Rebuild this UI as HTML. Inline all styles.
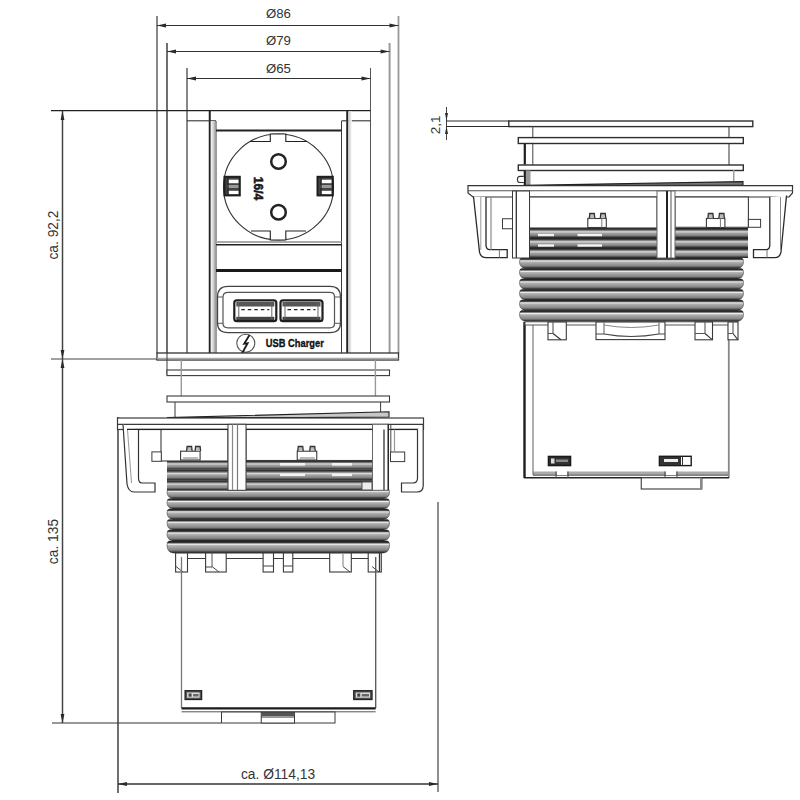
<!DOCTYPE html>
<html><head><meta charset="utf-8"><style>
html,body{margin:0;padding:0;background:#fff;}
svg{display:block;}
text{font-family:"Liberation Sans",sans-serif;}
</style></head><body>
<svg width="800" height="800" viewBox="0 0 800 800">
<defs>
<linearGradient id="thr" x1="0" y1="0" x2="0" y2="1">
 <stop offset="0" stop-color="#1a1a1a"/>
 <stop offset="0.12" stop-color="#303030"/>
 <stop offset="0.27" stop-color="#f0f0f0"/>
 <stop offset="0.38" stop-color="#b4b4b4"/>
 <stop offset="0.58" stop-color="#9a9a9a"/>
 <stop offset="0.76" stop-color="#858585"/>
 <stop offset="0.9" stop-color="#454545"/>
 <stop offset="1" stop-color="#1a1a1a"/>
</linearGradient>
<linearGradient id="gb" x1="0" y1="0" x2="1" y2="0"><stop offset="0" stop-color="#f4f4f4"/><stop offset="0.5" stop-color="#d8d8d8"/><stop offset="1" stop-color="#9a9a9a"/></linearGradient>
<linearGradient id="gb2" x1="0" y1="0" x2="1" y2="0"><stop offset="0" stop-color="#c0c0c0"/><stop offset="1" stop-color="#fafafa"/></linearGradient>
<linearGradient id="thr2" x1="0" y1="0" x2="0" y2="1">
 <stop offset="0" stop-color="#1a1a1a"/>
 <stop offset="0.14" stop-color="#3a3a3a"/>
 <stop offset="0.38" stop-color="#dcdcdc"/>
 <stop offset="0.52" stop-color="#a0a0a0"/>
 <stop offset="0.72" stop-color="#8a8a8a"/>
 <stop offset="0.88" stop-color="#4a4a4a"/>
 <stop offset="1" stop-color="#1a1a1a"/>
</linearGradient>
</defs>
<rect width="800" height="800" fill="#fff"/>
<line x1="157" y1="16" x2="157" y2="353" stroke="#555" stroke-width="1.4"/>
<line x1="398.5" y1="16" x2="398.5" y2="353" stroke="#999" stroke-width="1.8"/>
<line x1="157" y1="25.5" x2="398.5" y2="25.5" stroke="#333" stroke-width="1.2"/>
<polygon points="157,25.5 166,23.6 166,27.4" fill="#2a2a2a"/>
<polygon points="398.5,25.5 389.5,23.6 389.5,27.4" fill="#2a2a2a"/>
<text x="278.5" y="18" font-size="13.2" text-anchor="middle" font-weight="normal" fill="#333">Ø86</text>
<line x1="167" y1="43" x2="167" y2="353" stroke="#222" stroke-width="1.3"/>
<line x1="389.6" y1="43" x2="389.6" y2="353" stroke="#999" stroke-width="2"/>
<line x1="167" y1="51.5" x2="389.6" y2="51.5" stroke="#333" stroke-width="1.2"/>
<polygon points="167,51.5 176,49.6 176,53.4" fill="#2a2a2a"/>
<polygon points="389.6,51.5 380.6,49.6 380.6,53.4" fill="#2a2a2a"/>
<text x="278.5" y="45" font-size="13.2" text-anchor="middle" font-weight="normal" fill="#333">Ø79</text>
<line x1="187" y1="68" x2="187" y2="353" stroke="#555" stroke-width="1.4"/>
<line x1="370.5" y1="68" x2="370.5" y2="353" stroke="#555" stroke-width="1"/>
<line x1="187" y1="78.5" x2="370.5" y2="78.5" stroke="#333" stroke-width="1.2"/>
<polygon points="187,78.5 196,76.6 196,80.4" fill="#2a2a2a"/>
<polygon points="370.5,78.5 361.5,76.6 361.5,80.4" fill="#2a2a2a"/>
<text x="278.5" y="73" font-size="13.2" text-anchor="middle" font-weight="normal" fill="#333">Ø65</text>
<line x1="51" y1="110.6" x2="370.5" y2="110.6" stroke="#222" stroke-width="1.2"/>
<line x1="62.5" y1="111" x2="62.5" y2="723" stroke="#444" stroke-width="1.5"/>
<polygon points="62.5,111 60.6,120 64.4,120" fill="#2a2a2a"/>
<polygon points="62.5,359 60.6,350 64.4,350" fill="#2a2a2a"/>
<polygon points="62.5,359 60.6,368 64.4,368" fill="#2a2a2a"/>
<polygon points="62.5,723 60.6,714 64.4,714" fill="#2a2a2a"/>
<line x1="51" y1="359" x2="157" y2="359" stroke="#444" stroke-width="1.2"/>
<line x1="52" y1="723" x2="221" y2="723" stroke="#333" stroke-width="1"/>
<text x="57.5" y="235" font-size="13.8" text-anchor="middle" font-weight="normal" fill="#333" transform="rotate(-90 57.5 235)">ca. 92,2</text>
<text x="57.5" y="541.5" font-size="13.8" text-anchor="middle" font-weight="normal" fill="#333" transform="rotate(-90 57.5 541.5)">ca. 135</text>
<line x1="118" y1="417" x2="118" y2="793" stroke="#333" stroke-width="1.4"/>
<line x1="438" y1="502" x2="438" y2="792" stroke="#444" stroke-width="1.2"/>
<line x1="118" y1="784" x2="438" y2="784" stroke="#333" stroke-width="1.4"/>
<polygon points="118,784 127,782.1 127,785.9" fill="#2a2a2a"/>
<polygon points="438,784 429,782.1 429,785.9" fill="#2a2a2a"/>
<text x="278" y="778.5" font-size="13.8" text-anchor="middle" font-weight="normal" fill="#333">ca. Ø114,13</text>
<line x1="446.5" y1="107" x2="446.5" y2="140" stroke="#444" stroke-width="1"/>
<polygon points="446.5,121 445.0,113 448.0,113" fill="#2a2a2a"/>
<polygon points="446.5,126 445.0,134 448.0,134" fill="#2a2a2a"/>
<line x1="446" y1="121" x2="509" y2="121" stroke="#2a2a2a" stroke-width="1"/>
<line x1="446" y1="126.5" x2="509" y2="126.5" stroke="#2a2a2a" stroke-width="1"/>
<text x="440.5" y="124.8" font-size="13.5" text-anchor="middle" font-weight="normal" fill="#333" transform="rotate(-90 440.5 124.8)">2,1</text>
<line x1="209.75" y1="111" x2="209.75" y2="353" stroke="#222" stroke-width="2"/>
<line x1="347.25" y1="111" x2="347.25" y2="353" stroke="#222" stroke-width="2"/>
<line x1="187" y1="120.8" x2="216" y2="120.8" stroke="#333" stroke-width="1.1"/>
<line x1="341.5" y1="120.8" x2="370.5" y2="120.8" stroke="#333" stroke-width="1.1"/>
<line x1="216" y1="121" x2="216" y2="353" stroke="#3a3a3a" stroke-width="1"/>
<line x1="341.5" y1="121" x2="341.5" y2="353" stroke="#3a3a3a" stroke-width="1"/>
<rect x="210.8" y="121" width="4.7" height="232" fill="url(#gb)"/>
<rect x="348.3" y="111.5" width="3.5" height="241.5" fill="url(#gb2)"/>
<line x1="216" y1="130.5" x2="341.5" y2="130.5" stroke="#222" stroke-width="2.2"/>
<line x1="216" y1="242" x2="341.5" y2="242" stroke="#aaa" stroke-width="2"/>
<line x1="216" y1="244.8" x2="341.5" y2="244.8" stroke="#222" stroke-width="1.6"/>
<line x1="216" y1="270.5" x2="341.5" y2="270.5" stroke="#1a1a1a" stroke-width="3"/>
<ellipse cx="278.5" cy="187" rx="55" ry="53" stroke="#333" stroke-width="1.1" fill="none"/>
<path d="M 250 141.5 H 270.3 V 134 H 285.8 V 141.5 H 307" stroke="#222" stroke-width="1.1" fill="#fff"/>
<path d="M 251 231 H 270.3 V 240 H 285.8 V 231 H 306" stroke="#222" stroke-width="1.1" fill="#fff"/>
<circle cx="278.5" cy="161.5" r="7.3" stroke="#222" stroke-width="2.5" fill="none"/>
<circle cx="278.5" cy="212.3" r="7.3" stroke="#222" stroke-width="2.5" fill="none"/>
<rect x="224.5" y="176.8" width="15.3" height="18.6" stroke="#1e1e1e" stroke-width="2" fill="#444" rx="0"/>
<rect x="228.5" y="179.7" width="10" height="3.5" fill="#fff"/>
<rect x="228.5" y="190.8" width="10" height="3.3" fill="#fff"/>
<rect x="227.5" y="185" width="11" height="3" fill="#999"/>
<line x1="228.0" y1="177" x2="228.0" y2="195" stroke="#222" stroke-width="1.2"/>
<rect x="317.5" y="176.8" width="15.3" height="18.6" stroke="#1e1e1e" stroke-width="2" fill="#444" rx="0"/>
<rect x="321.5" y="179.7" width="10" height="3.5" fill="#fff"/>
<rect x="321.5" y="190.8" width="10" height="3.3" fill="#fff"/>
<rect x="320.5" y="185" width="11" height="3" fill="#999"/>
<line x1="321.0" y1="177" x2="321.0" y2="195" stroke="#222" stroke-width="1.2"/>
<text x="254.4" y="188.5" font-size="12" text-anchor="middle" font-weight="bold" fill="#1a1a1a" stroke="#1a1a1a" stroke-width="0.6" transform="rotate(90 254.4 188.5)">16/4</text>
<path d="M 228 286.4 H 330 Q 340.5 286.4 340.5 297 V 323 Q 340.5 332.6 330 332.6 H 228 Q 217.5 332.6 217.5 323 V 297 Q 217.5 286.4 228 286.4 Z" stroke="#444" stroke-width="1.3" fill="none"/>
<path d="M 228 292.4 H 330 Q 334.5 292.4 334.5 297 V 323.5 Q 334.5 327.8 330 327.8 H 228 Q 223 327.8 223 323.5 V 297 Q 223 292.4 228 292.4 Z" stroke="#555" stroke-width="1.2" fill="none"/>
<line x1="217.5" y1="297" x2="223" y2="297" stroke="#555" stroke-width="1"/>
<line x1="217.5" y1="323.3" x2="223" y2="323.3" stroke="#555" stroke-width="1"/>
<line x1="334.5" y1="297" x2="340.5" y2="297" stroke="#555" stroke-width="1"/>
<line x1="334.5" y1="323.3" x2="340.5" y2="323.3" stroke="#555" stroke-width="1"/>
<rect x="234.3" y="300.3" width="42" height="20.9" stroke="#1e1e1e" stroke-width="2.2" fill="#fff" rx="2.5"/>
<rect x="236.3" y="302" width="38" height="4.5" fill="#555"/>
<rect x="236.3" y="316.8" width="38" height="3.2" fill="#444"/>
<line x1="238.8" y1="302" x2="238.8" y2="319" stroke="#666" stroke-width="1"/>
<line x1="271.8" y1="302" x2="271.8" y2="319" stroke="#666" stroke-width="1"/>
<line x1="241.3" y1="309.6" x2="269.3" y2="309.6" stroke="#222" stroke-width="1.3" stroke-dasharray="3.5 3"/>
<rect x="280.5" y="300.3" width="42" height="20.9" stroke="#1e1e1e" stroke-width="2.2" fill="#fff" rx="2.5"/>
<rect x="282.5" y="302" width="38" height="4.5" fill="#555"/>
<rect x="282.5" y="316.8" width="38" height="3.2" fill="#444"/>
<line x1="285.0" y1="302" x2="285.0" y2="319" stroke="#666" stroke-width="1"/>
<line x1="318.0" y1="302" x2="318.0" y2="319" stroke="#666" stroke-width="1"/>
<line x1="287.5" y1="309.6" x2="315.5" y2="309.6" stroke="#222" stroke-width="1.3" stroke-dasharray="3.5 3"/>
<circle cx="245.8" cy="343.2" r="9" stroke="#555" stroke-width="1.1" fill="none"/>
<path d="M 249.5 335 L 244.2 343.8 L 247.6 343.2 L 242 353.5" stroke="#1a1a1a" stroke-width="1.8" fill="none"/>
<text x="265.8" y="347.2" font-size="11" font-weight="bold" fill="#111" stroke="#111" stroke-width="0.35" textLength="58" lengthAdjust="spacingAndGlyphs">USB Charger</text>
<rect x="157" y="353" width="241.5" height="7" stroke="#333" stroke-width="1.3" fill="#fff" rx="0"/>
<line x1="157" y1="358.5" x2="398.5" y2="358.5" stroke="#aaa" stroke-width="1.5"/>
<line x1="167" y1="353" x2="167" y2="375" stroke="#3a3a3a" stroke-width="1"/>
<rect x="167" y="370" width="222.5" height="5.6" stroke="#3a3a3a" stroke-width="1.1" fill="#fff" rx="0"/>
<line x1="181.3" y1="360" x2="181.3" y2="396" stroke="#999" stroke-width="1.4"/>
<line x1="375.4" y1="360" x2="375.4" y2="396" stroke="#999" stroke-width="1.4"/>
<rect x="167" y="396" width="222.5" height="6" stroke="#3a3a3a" stroke-width="1.1" fill="#fff" rx="0"/>
<line x1="175" y1="402" x2="175" y2="417" stroke="#3a3a3a" stroke-width="1"/>
<line x1="380.6" y1="402" x2="380.6" y2="412" stroke="#3a3a3a" stroke-width="1"/>
<path d="M 167 417.6 L 389 411.8 L 389 417 L 300 417.6 Z" stroke="#222" stroke-width="1.1" fill="#c8c8c8"/>
<rect x="117.5" y="418" width="306" height="11.5" stroke="#3a3a3a" stroke-width="1.2" fill="#fff" rx="0"/>
<line x1="117.5" y1="424.3" x2="423.5" y2="424.3" stroke="#3a3a3a" stroke-width="1.2"/>
<path d="M 169.5 488.5 H 387.0 Q 389.5 488.5 389.5 492.07 Q 389.5 497.7 383.5 498.7 H 173 Q 167 497.7 167 492.07 Q 167 488.5 169.5 488.5 Z" fill="url(#thr)" stroke="#2a2a2a" stroke-width="0.5"/>
<path d="M 169.5 498.7 H 387.0 Q 389.5 498.7 389.5 502.305 Q 389.5 508 383.5 509 H 173 Q 167 508 167 502.305 Q 167 498.7 169.5 498.7 Z" fill="url(#thr)" stroke="#2a2a2a" stroke-width="0.5"/>
<path d="M 169.5 509 H 387.0 Q 389.5 509 389.5 512.64 Q 389.5 518.4 383.5 519.4 H 173 Q 167 518.4 167 512.64 Q 167 509 169.5 509 Z" fill="url(#thr)" stroke="#2a2a2a" stroke-width="0.5"/>
<path d="M 169.5 519.4 H 387.0 Q 389.5 519.4 389.5 523.11 Q 389.5 529 383.5 530 H 173 Q 167 529 167 523.11 Q 167 519.4 169.5 519.4 Z" fill="url(#thr)" stroke="#2a2a2a" stroke-width="0.5"/>
<path d="M 169.5 530 H 387.0 Q 389.5 530 389.5 533.85 Q 389.5 540 383.5 541 H 173 Q 167 540 167 533.85 Q 167 530 169.5 530 Z" fill="url(#thr)" stroke="#2a2a2a" stroke-width="0.5"/>
<path d="M 169.5 541 H 387.0 Q 389.5 541 389.5 545.2 Q 389.5 552 383.5 553 H 173 Q 167 552 167 545.2 Q 167 541 169.5 541 Z" fill="url(#thr)" stroke="#2a2a2a" stroke-width="0.5"/>
<rect x="167" y="460.5" width="61" height="9.0" fill="url(#thr2)"/>
<rect x="167" y="469.5" width="61" height="10.800000000000011" fill="url(#thr2)"/>
<rect x="167" y="480.3" width="61" height="10.0" fill="url(#thr2)"/>
<rect x="246" y="460.5" width="127" height="9.0" fill="url(#thr2)"/>
<rect x="246" y="469.5" width="127" height="10.800000000000011" fill="url(#thr2)"/>
<rect x="246" y="480.3" width="127" height="10.0" fill="url(#thr2)"/>
<rect x="280" y="463" width="25" height="2.6" fill="#f2f2f2"/>
<rect x="280" y="473.5" width="25" height="2.6" fill="#f2f2f2"/>
<rect x="332" y="463" width="20" height="2.6" fill="#f2f2f2"/>
<rect x="332" y="473.5" width="20" height="2.6" fill="#f2f2f2"/>
<rect x="161" y="429.5" width="67" height="31.5" stroke="#3a3a3a" stroke-width="1.1" fill="#fff" rx="0"/>
<rect x="246" y="429.5" width="127.4" height="31" stroke="#3a3a3a" stroke-width="1.1" fill="#fff" rx="0"/>
<rect x="228" y="424.3" width="18" height="66" stroke="#3a3a3a" stroke-width="1" fill="#fff" rx="0"/>
<line x1="232.5" y1="424.3" x2="232.5" y2="490" stroke="#888" stroke-width="1.2"/>
<line x1="237.5" y1="424.3" x2="237.5" y2="490" stroke="#777" stroke-width="1.2"/>
<rect x="372.5" y="424.3" width="16" height="66" stroke="#666" stroke-width="1" fill="#fff" rx="0"/>
<line x1="384" y1="429.5" x2="384" y2="490" stroke="#333" stroke-width="1.3"/>
<line x1="388.2" y1="424.3" x2="388.2" y2="490" stroke="#222" stroke-width="1.4"/>
<line x1="390.8" y1="424.3" x2="390.8" y2="452" stroke="#444" stroke-width="1"/>
<rect x="362" y="482" width="10" height="8" stroke="#555" stroke-width="1" fill="#eee" rx="0"/>
<path d="M 123 424.5 L 127 484 Q 128.5 492 134 492 L 155 492 L 155 483 L 142 483 Q 138.5 483 138.5 478 L 138.5 429.5" stroke="#333" stroke-width="1.2" fill="#fff"/>
<line x1="127.5" y1="429.5" x2="131.5" y2="483" stroke="#999" stroke-width="1"/>
<rect x="151.9" y="451.9" width="9.4" height="9.4" stroke="#3a3a3a" stroke-width="1" fill="#fff" rx="0"/>
<line x1="127" y1="429.4" x2="228" y2="429.4" stroke="#222" stroke-width="1.3"/>
<line x1="246" y1="429.4" x2="372.5" y2="429.4" stroke="#222" stroke-width="1.3"/>
<line x1="391" y1="429.4" x2="423" y2="429.4" stroke="#222" stroke-width="1.2"/>
<path d="M 417.5 429.5 L 417.5 478 Q 417.5 483 413 483 L 401.5 483 L 401.5 492 L 417 492 Q 423 492 423.2 486 L 423.2 424.5" stroke="#333" stroke-width="1.2" fill="#fff"/>
<rect x="390.5" y="452" width="14.2" height="9.6" stroke="#3a3a3a" stroke-width="1" fill="#fff" rx="0"/>
<line x1="394.5" y1="429.5" x2="394.5" y2="452" stroke="#999" stroke-width="1.2"/>
<rect x="180.6" y="451.2" width="19.5" height="8.8" stroke="#3a3a3a" stroke-width="1.1" fill="#fff" rx="0"/>
<path d="M 186.6 451 L 187.1 446.5 H 191.6 L 192.1 451" stroke="#333" stroke-width="1.3" fill="#bbb"/>
<path d="M 195.1 451 L 195.6 446.5 H 200.1 L 200.6 451" stroke="#333" stroke-width="1.3" fill="#bbb"/>
<line x1="183.1" y1="458" x2="198.1" y2="458" stroke="#777" stroke-width="1"/>
<rect x="297.25" y="451.2" width="19.5" height="8.8" stroke="#3a3a3a" stroke-width="1.1" fill="#fff" rx="0"/>
<path d="M 297.75 451 L 298.25 446.5 H 302.75 L 303.25 451" stroke="#333" stroke-width="1.3" fill="#bbb"/>
<path d="M 309.75 451 L 310.25 446.5 H 314.75 L 315.25 451" stroke="#333" stroke-width="1.3" fill="#bbb"/>
<line x1="299.75" y1="458" x2="314.75" y2="458" stroke="#777" stroke-width="1"/>
<rect x="181" y="553" width="194.7" height="5.5" stroke="#3a3a3a" stroke-width="1" fill="#fff" rx="0"/>
<rect x="175.6" y="553" width="11.900000000000006" height="19" stroke="#3a3a3a" stroke-width="1.1" fill="#fff" rx="0"/>
<rect x="205.6" y="553" width="20.599999999999994" height="19" stroke="#3a3a3a" stroke-width="1.1" fill="#fff" rx="0"/>
<rect x="263.1" y="553" width="10.399999999999977" height="19" stroke="#3a3a3a" stroke-width="1.1" fill="#fff" rx="0"/>
<rect x="283.4" y="553" width="9.400000000000034" height="19" stroke="#3a3a3a" stroke-width="1.1" fill="#fff" rx="0"/>
<rect x="329.7" y="553" width="21.600000000000023" height="19" stroke="#3a3a3a" stroke-width="1.1" fill="#fff" rx="0"/>
<rect x="368.2" y="553" width="13.100000000000023" height="19" stroke="#3a3a3a" stroke-width="1.1" fill="#fff" rx="0"/>
<path d="M 176 566.5 L 183 572" stroke="#444" stroke-width="1" fill="none"/>
<path d="M 212 566.5 L 219 572" stroke="#444" stroke-width="1" fill="none"/>
<path d="M 343 566.5 L 350 572" stroke="#444" stroke-width="1" fill="none"/>
<path d="M 372 566.5 L 379 572" stroke="#444" stroke-width="1" fill="none"/>
<line x1="263.1" y1="566" x2="273.5" y2="566" stroke="#444" stroke-width="1"/>
<line x1="283.4" y1="566" x2="292.8" y2="566" stroke="#444" stroke-width="1"/>
<line x1="205.6" y1="567" x2="212" y2="567" stroke="#444" stroke-width="1"/>
<line x1="212" y1="553" x2="212" y2="567" stroke="#555" stroke-width="1"/>
<line x1="343" y1="553" x2="343" y2="566.5" stroke="#999" stroke-width="1.3"/>
<line x1="379.5" y1="553" x2="379.5" y2="572" stroke="#333" stroke-width="1.3"/>
<line x1="181.5" y1="557" x2="181.5" y2="708" stroke="#777" stroke-width="1.3"/>
<line x1="375.7" y1="557" x2="375.7" y2="708" stroke="#555" stroke-width="1.3"/>
<line x1="181.5" y1="708.3" x2="375.7" y2="708.3" stroke="#1a1a1a" stroke-width="2.2"/>
<line x1="181.5" y1="711.8" x2="375.7" y2="711.8" stroke="#555" stroke-width="1"/>
<rect x="185.1" y="690.7" width="16.5" height="8.8" stroke="#222" stroke-width="1.3" fill="#555" rx="0"/>
<rect x="187.1" y="692.5" width="12.5" height="5.2" fill="#ddd"/>
<rect x="188.6" y="693.5" width="3" height="3.2" fill="#444"/>
<rect x="193.1" y="694" width="5.5" height="2.5" fill="#666"/>
<rect x="353.75" y="690.7" width="18.25" height="8.8" stroke="#222" stroke-width="1.3" fill="#555" rx="0"/>
<rect x="355.75" y="692.5" width="14.25" height="5.2" fill="#ddd"/>
<rect x="357.25" y="693.5" width="3" height="3.2" fill="#444"/>
<rect x="361.75" y="694" width="7.25" height="2.5" fill="#666"/>
<rect x="221.5" y="712" width="113.5" height="11" stroke="#3a3a3a" stroke-width="1" fill="#fff" rx="0"/>
<rect x="261.25" y="712.5" width="33.25" height="10.5" stroke="#3a3a3a" stroke-width="1" fill="#fff" rx="0"/>
<rect x="261.25" y="712.5" width="33.25" height="3.5" fill="#555"/>
<line x1="261.25" y1="717" x2="294.5" y2="717" stroke="#333" stroke-width="1"/>
<rect x="508.8" y="121" width="244" height="5.6" stroke="#2e2e2e" stroke-width="1.4" fill="#fff" rx="0"/>
<line x1="532.8" y1="126.5" x2="532.8" y2="165" stroke="#555" stroke-width="1.1"/>
<line x1="729" y1="126.5" x2="729" y2="165" stroke="#444" stroke-width="1.1"/>
<rect x="518.3" y="137.6" width="225" height="5.9" stroke="#2e2e2e" stroke-width="1.4" fill="#fff" rx="0"/>
<rect x="518.3" y="165" width="225" height="5.5" stroke="#2e2e2e" stroke-width="1.4" fill="#fff" rx="0"/>
<rect x="526" y="170.5" width="4.5" height="14.5" fill="#999"/>
<line x1="524.8" y1="143.5" x2="524.8" y2="164.5" stroke="#1e1e1e" stroke-width="2.2"/>
<line x1="524.8" y1="171" x2="524.8" y2="185" stroke="#1e1e1e" stroke-width="2.2"/>
<line x1="733.75" y1="170" x2="733.75" y2="181" stroke="#999" stroke-width="1.4"/>
<path d="M 525 185.2 L 743 181.6 L 743 185.4 Z" stroke="#222" stroke-width="1.1" fill="#777"/>
<path d="M 523.8 176.4 H 520 Q 517.4 176.4 517.4 179.4 Q 517.4 182.5 520 182.5 H 523.8" stroke="#333" stroke-width="1.1" fill="#fff"/>
<path d="M 468 185.6 H 792.5 V 193 L 789 197 H 473 L 468 193 Z" stroke="#333" stroke-width="1.2" fill="#fff"/>
<line x1="468" y1="190.7" x2="792.5" y2="190.7" stroke="#555" stroke-width="1.1"/>
<path d="M 522.0 258 H 741.0 Q 743.5 258 743.5 261.675 Q 743.5 267.5 737.5 268.5 H 525.5 Q 519.5 267.5 519.5 261.675 Q 519.5 258 522.0 258 Z" fill="url(#thr)" stroke="#2a2a2a" stroke-width="0.5"/>
<path d="M 522.0 268.5 H 741.0 Q 743.5 268.5 743.5 272.175 Q 743.5 278 737.5 279 H 525.5 Q 519.5 278 519.5 272.175 Q 519.5 268.5 522.0 268.5 Z" fill="url(#thr)" stroke="#2a2a2a" stroke-width="0.5"/>
<path d="M 522.0 279 H 741.0 Q 743.5 279 743.5 282.675 Q 743.5 288.5 737.5 289.5 H 525.5 Q 519.5 288.5 519.5 282.675 Q 519.5 279 522.0 279 Z" fill="url(#thr)" stroke="#2a2a2a" stroke-width="0.5"/>
<path d="M 522.0 289.5 H 741.0 Q 743.5 289.5 743.5 293.175 Q 743.5 299 737.5 300 H 525.5 Q 519.5 299 519.5 293.175 Q 519.5 289.5 522.0 289.5 Z" fill="url(#thr)" stroke="#2a2a2a" stroke-width="0.5"/>
<path d="M 522.0 300 H 741.0 Q 743.5 300 743.5 303.675 Q 743.5 309.5 737.5 310.5 H 525.5 Q 519.5 309.5 519.5 303.675 Q 519.5 300 522.0 300 Z" fill="url(#thr)" stroke="#2a2a2a" stroke-width="0.5"/>
<path d="M 522.0 310.5 H 741.0 Q 743.5 310.5 743.5 314.35 Q 743.5 320.5 737.5 321.5 H 525.5 Q 519.5 320.5 519.5 314.35 Q 519.5 310.5 522.0 310.5 Z" fill="url(#thr)" stroke="#2a2a2a" stroke-width="0.5"/>
<rect x="529.5" y="228" width="127.5" height="10" fill="url(#thr2)"/>
<rect x="529.5" y="238" width="127.5" height="10" fill="url(#thr2)"/>
<rect x="529.5" y="248" width="127.5" height="10" fill="url(#thr2)"/>
<rect x="675" y="228" width="73" height="10" fill="url(#thr2)"/>
<rect x="675" y="238" width="73" height="10" fill="url(#thr2)"/>
<rect x="675" y="248" width="73" height="10" fill="url(#thr2)"/>
<rect x="538" y="233.8" width="16" height="2.4" fill="#f2f2f2"/>
<rect x="538" y="244.3" width="16" height="2.4" fill="#f2f2f2"/>
<rect x="577.5" y="233.8" width="24.5" height="2.4" fill="#f2f2f2"/>
<rect x="577.5" y="244.3" width="24.5" height="2.4" fill="#f2f2f2"/>
<rect x="529.5" y="197" width="127.5" height="31" stroke="#3a3a3a" stroke-width="1.1" fill="#fff" rx="0"/>
<rect x="675" y="197" width="73.4" height="30.3" stroke="#3a3a3a" stroke-width="1.1" fill="#fff" rx="0"/>
<rect x="512.5" y="191" width="17" height="67" stroke="#3a3a3a" stroke-width="1" fill="#fff" rx="0"/>
<line x1="516.3" y1="191" x2="516.3" y2="258" stroke="#333" stroke-width="1.3"/>
<rect x="657" y="191" width="18" height="67" stroke="#666" stroke-width="1" fill="#fff" rx="0"/>
<line x1="667" y1="191" x2="667" y2="258" stroke="#222" stroke-width="2"/>
<line x1="671" y1="191" x2="671" y2="258" stroke="#555" stroke-width="1"/>
<path d="M 473.5 196.5 L 479.5 252 Q 480.5 257.6 486 257.6 L 507.2 257.6 L 507.2 249.7 L 490 249.7 Q 486 249.7 486 245 L 486 197" stroke="#2a2a2a" stroke-width="1.3" fill="#fff"/>
<line x1="480.8" y1="197" x2="480.8" y2="250" stroke="#999" stroke-width="1"/>
<line x1="491" y1="197" x2="491" y2="249.7" stroke="#888" stroke-width="1.2"/>
<line x1="499.4" y1="249.7" x2="499.4" y2="257.6" stroke="#777" stroke-width="1"/>
<rect x="502.5" y="218.75" width="10" height="10" stroke="#3a3a3a" stroke-width="1" fill="#fff" rx="0"/>
<path d="M 786.5 195.5 L 781 252 Q 780 257.6 775 257.6 L 753.5 257.6 L 753.5 249.7 L 766 249.7 Q 769.8 249.7 769.8 245 L 769.8 197" stroke="#2a2a2a" stroke-width="1.3" fill="#fff"/>
<line x1="780.5" y1="197" x2="780.5" y2="250" stroke="#888" stroke-width="1"/>
<line x1="767" y1="250" x2="767" y2="257.6" stroke="#777" stroke-width="1"/>
<rect x="748.4" y="219.4" width="12.2" height="7.9" stroke="#3a3a3a" stroke-width="1" fill="#fff" rx="0"/>
<rect x="587.8" y="218.5" width="18.5" height="9" stroke="#3a3a3a" stroke-width="1.1" fill="#fff" rx="0"/>
<path d="M 589.3 218.3 L 589.8 213.5 H 594.3 L 594.8 218.3" stroke="#333" stroke-width="1.3" fill="#bbb"/>
<path d="M 600.3 218.3 L 600.8 213.5 H 605.3 L 605.8 218.3" stroke="#333" stroke-width="1.3" fill="#bbb"/>
<line x1="601.8" y1="218.5" x2="601.8" y2="227.5" stroke="#777" stroke-width="1"/>
<rect x="706.4" y="218.5" width="18.5" height="9" stroke="#3a3a3a" stroke-width="1.1" fill="#fff" rx="0"/>
<path d="M 707.9 218.3 L 708.4 213.5 H 712.9 L 713.4 218.3" stroke="#333" stroke-width="1.3" fill="#bbb"/>
<path d="M 718.9 218.3 L 719.4 213.5 H 723.9 L 724.4 218.3" stroke="#333" stroke-width="1.3" fill="#bbb"/>
<line x1="720.4" y1="218.5" x2="720.4" y2="227.5" stroke="#777" stroke-width="1"/>
<rect x="533" y="471.5" width="195" height="3.8" fill="#aaa"/>
<line x1="524.5" y1="322" x2="524.5" y2="478" stroke="#1e1e1e" stroke-width="2.4"/>
<line x1="533" y1="322" x2="533" y2="475" stroke="#777" stroke-width="1.2"/>
<line x1="728.8" y1="322" x2="728.8" y2="478" stroke="#888" stroke-width="1.8"/>
<line x1="524" y1="477.8" x2="729" y2="477.8" stroke="#222" stroke-width="1.6"/>
<line x1="533" y1="475.2" x2="728" y2="475.2" stroke="#555" stroke-width="1"/>
<line x1="556" y1="471.5" x2="556" y2="478" stroke="#444" stroke-width="1"/>
<line x1="568" y1="471.5" x2="568" y2="478" stroke="#444" stroke-width="1"/>
<rect x="557" y="471" width="10" height="4" fill="#fff"/>
<line x1="665" y1="471.5" x2="665" y2="478" stroke="#444" stroke-width="1"/>
<line x1="677" y1="471.5" x2="677" y2="478" stroke="#444" stroke-width="1"/>
<rect x="666" y="471" width="10" height="4" fill="#fff"/>
<rect x="525" y="321.8" width="204" height="3.2" stroke="#555" stroke-width="1" fill="#fff" rx="0"/>
<rect x="548" y="322" width="18.299999999999955" height="17.8" stroke="#3a3a3a" stroke-width="1.1" fill="#fff" rx="0"/>
<line x1="553" y1="322" x2="553" y2="333.5" stroke="#666" stroke-width="1.2"/>
<path d="M 553 333.5 L 561 339.8" stroke="#333" stroke-width="1.1" fill="none"/>
<line x1="548" y1="333.5" x2="553" y2="333.5" stroke="#555" stroke-width="1"/>
<rect x="695" y="322" width="17.5" height="17.8" stroke="#3a3a3a" stroke-width="1.1" fill="#fff" rx="0"/>
<line x1="705" y1="322" x2="705" y2="333.5" stroke="#666" stroke-width="1.2"/>
<path d="M 705 333.5 L 712.5 339.8" stroke="#333" stroke-width="1.1" fill="none"/>
<line x1="695" y1="333.5" x2="705" y2="333.5" stroke="#555" stroke-width="1"/>
<rect x="728" y="322" width="10" height="17.8" stroke="#3a3a3a" stroke-width="1.1" fill="#fff" rx="0"/>
<line x1="733" y1="322" x2="733" y2="333.5" stroke="#666" stroke-width="1.2"/>
<path d="M 733 333.5 L 738 339.8" stroke="#333" stroke-width="1.1" fill="none"/>
<line x1="728" y1="333.5" x2="733" y2="333.5" stroke="#555" stroke-width="1"/>
<rect x="596" y="322" width="69" height="17.6" stroke="#3a3a3a" stroke-width="1.1" fill="#fff" rx="0"/>
<line x1="604" y1="322" x2="604" y2="334" stroke="#777" stroke-width="1.2"/>
<line x1="659" y1="322" x2="659" y2="334" stroke="#777" stroke-width="1.2"/>
<path d="M 596 334 L 604 334 Q 631 339 659 334 L 665 334" stroke="#444" stroke-width="1.1" fill="none"/>
<path d="M 604 325 Q 631 330 659 325" stroke="#888" stroke-width="1" fill="none"/>
<rect x="548.5" y="456.5" width="22" height="9" stroke="#1a1a1a" stroke-width="1.6" fill="#333" rx="0"/>
<rect x="551" y="458.5" width="3.5" height="5" fill="#ddd"/>
<rect x="556" y="459.5" width="12" height="2.5" fill="#888"/>
<rect x="659.4" y="456.3" width="31.8" height="9.3" stroke="#1a1a1a" stroke-width="1.4" fill="#fff" rx="0"/>
<rect x="660" y="457" width="21" height="8" fill="#333"/>
<rect x="664" y="459" width="14" height="3" fill="#eee"/>
<line x1="682.5" y1="456.3" x2="682.5" y2="465.6" stroke="#333" stroke-width="1"/>
<rect x="641.25" y="477.8" width="60.6" height="11.2" stroke="#3a3a3a" stroke-width="1.1" fill="#fff" rx="0"/>
<line x1="701" y1="478" x2="701" y2="489" stroke="#888" stroke-width="2"/>
</svg></body></html>
